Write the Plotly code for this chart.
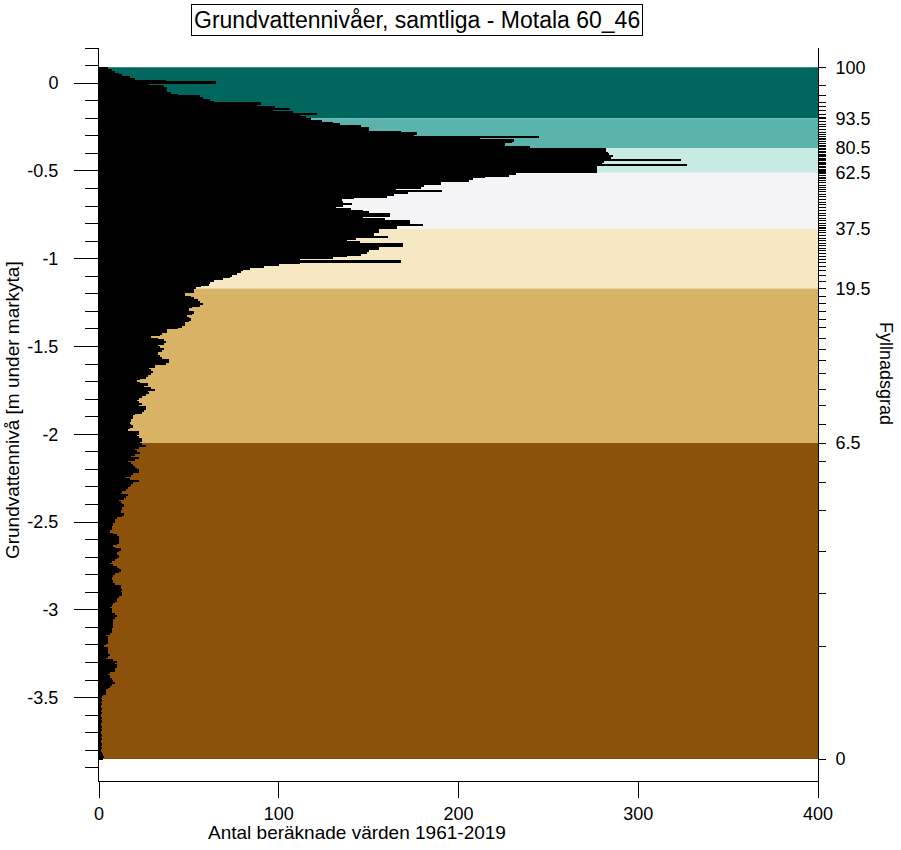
import numpy as np
import plotly.graph_objects as go

# ---------------- data ----------------
level_top = 0.09          # upper edge of first 1 cm bin [m]
bin_width = 0.01          # bin height [m]

# counts per 1 cm bin, top (0.09 m) downwards
counts_top = [5, 7, 9, 11, 13, 17, 20, 37, 65, 28, 36, 38, 37, 38, 40, 44, 56, 58, 62, 64,
              90, 88, 98, 106, 97, 108, 121, 112, 115, 118, 124, 130, 134, 146]
counts_peak = [150, 150, 168, 177, 175, 245, 212, 231, 230, 226, 226, 240, 282, 282, 283, 284,
               286, 285, 324, 281, 280, 327, 277, 277, 277, 277, 232, 228, 215, 208, 206, 190,
               190, 181, 179, 165, 191, 172, 164, 160, 142, 135, 136, 141, 136, 132, 140, 147,
               150, 162, 162, 147, 159, 173, 173, 180, 166, 166, 156, 156, 153, 153, 161, 143,
               138, 145, 169, 169, 156, 156, 150, 149, 146, 138, 130, 112, 168, 112]
counts_shoulder = [100, 92, 84, 80, 79, 77, 74, 73, 69, 64, 62, 61, 57, 54]
counts_mid = [53, 53, 48, 48, 51, 53, 55, 56, 58, 56, 52, 50, 50, 53, 52, 49, 50, 51, 50, 48,
              48, 46, 44, 38, 38, 35, 34, 29, 33, 36, 37, 36, 33, 34, 36, 35, 33, 33, 34, 35,
              39, 39, 37, 31, 31, 28, 29, 30, 29, 27, 26, 23, 21, 23, 27, 25, 29, 31, 27, 28,
              26, 24, 22, 21, 22, 24, 22, 26, 26, 25, 24, 20, 19, 19, 18, 18, 17, 18, 19, 17,
              16, 22, 22, 21, 22, 24, 24, 23, 24, 26, 22, 20, 21, 23, 20, 18]
counts_low = [22, 20, 16, 18, 19, 20, 21, 22, 22, 19, 18, 15, 17, 22, 19, 18, 17, 16, 15, 13,
              12, 16, 15, 14, 11, 12, 13, 14, 13, 13, 12, 12, 14, 13, 10, 9, 9, 8, 8, 7,
              7, 6, 6, 8, 10, 11, 11, 11, 11, 10, 8, 9, 12, 11, 10, 10, 11, 10, 9, 7,
              6, 8, 10, 11, 12, 11, 9, 8, 7, 7, 8, 8, 9, 12, 12, 13, 12, 13, 13, 11,
              10, 10, 9, 8, 7, 6, 7, 7, 7, 9, 10, 9, 8, 8, 8, 8, 8, 7, 7, 7,
              6, 4, 5, 5, 5, 5, 4, 3, 5, 5, 5, 5, 6, 5, 4, 8, 10, 9, 10, 10,
              9, 9, 6, 5, 6, 6, 7, 8, 9, 7, 6, 5, 4, 4, 4, 2]
counts_tail = [1.5, 1, 1.5, 1, 1.5, 1, 1, 1.5, 1, 1.5, 1, 1, 1.5, 1, 1.5, 1, 1, 1.5,
               1, 1.5, 1, 1, 1.5, 1, 1.5, 1, 1, 1.5, 1, 1.5, 1, 1, 1.5, 2, 3, 2]

counts = counts_top + counts_peak + counts_shoulder + counts_mid + counts_low + counts_tail
levels = [round(level_top - bin_width * (i + 0.5), 4) for i in range(len(counts))]

# filling-degree (Fyllnadsgrad) band limits [m] and labels
band_edges = [0.09, -0.20, -0.37, -0.51, -0.83, -1.17, -2.05, -3.85]
fill_labels = ["100", "93.5", "80.5", "62.5", "37.5", "19.5", "6.5", "0"]
band_colors = ["#01665e", "#5ab4ac", "#c7eae5", "#f4f4f6", "#f6e8c3", "#d8b365", "#8c510a"]

x_ticks = [0, 100, 200, 300, 400]
y_ticks = [0, -0.5, -1, -1.5, -2, -2.5, -3, -3.5]
y_tick_text = ["0", "-0.5", "-1", "-1.5", "-2", "-2.5", "-3", "-3.5"]

title_text = "Grundvattennivåer, samtliga - Motala 60_46"
y_title = "Grundvattennivå [m under markyta]"
x_title = "Antal beräknade värden 1961-2019"
y2_title = "Fyllnadsgrad"

# ---------------- derived: integer-percentile ticks on right axis ----------------
c = np.array(counts, dtype=float)[::-1]                      # bottom -> top
edges_up = level_top - bin_width * len(counts) + bin_width * np.arange(len(counts) + 1)
cum = np.concatenate([[0], np.cumsum(c)]) / c.sum()
pct_ticks = [float(np.interp(p / 100.0, cum, edges_up)) for p in range(1, 100)]

FONT = "Liberation Sans, Arial, sans-serif"
yrange = [-3.975, 0.2]

fig = go.Figure()
fig.add_trace(go.Bar(x=counts, y=levels, orientation="h", width=bin_width,
                     marker=dict(color="black", line=dict(width=0)),
                     showlegend=False, hoverinfo="x+y"))
fig.add_trace(go.Scatter(x=[None], y=[None], yaxis="y2", showlegend=False))

for i, col in enumerate(band_colors):
    fig.add_shape(type="rect", xref="x", yref="y", x0=0, x1=400,
                  y0=band_edges[i + 1], y1=band_edges[i],
                  fillcolor=col, line=dict(width=0), layer="below")

fig.update_layout(
    width=901, height=850,
    margin=dict(l=99, r=83, t=48, b=69),
    paper_bgcolor="white", plot_bgcolor="white",
    font=dict(family=FONT, size=18, color="black"),
    bargap=0,
    xaxis=dict(range=[0, 400], tickvals=x_ticks, ticks="outside", ticklen=16,
               tickcolor="black", showline=True, linecolor="black", linewidth=1,
               showgrid=False, zeroline=False, tickfont=dict(size=18)),
    yaxis=dict(range=yrange, tickvals=y_ticks, ticktext=y_tick_text,
               ticks="outside", ticklen=24, tickcolor="black",
               minor=dict(dtick=0.1, tick0=0, ticks="outside", ticklen=13, tickcolor="black"),
               showline=True, linecolor="black", linewidth=1,
               showgrid=False, zeroline=False, ticklabelstandoff=12,
               tickfont=dict(size=18)),
    yaxis2=dict(range=yrange, overlaying="y", side="right", anchor="x",
                tickvals=band_edges, ticktext=fill_labels,
                ticks="outside", ticklen=7, tickcolor="black",
                minor=dict(tickvals=pct_ticks, ticks="outside", ticklen=7, tickcolor="black"),
                showline=True, linecolor="black", linewidth=1,
                showgrid=False, zeroline=False, ticklabelstandoff=6,
                tickfont=dict(size=18)),
)

fig.add_annotation(text=title_text, xref="paper", yref="paper", x=0.4423, y=1.038,
                   showarrow=False, font=dict(size=23), bordercolor="black",
                   borderwidth=1, borderpad=2, bgcolor="white",
                   xanchor="center", yanchor="middle")
fig.add_annotation(text=y_title, xref="paper", yref="paper", x=-0.121, y=0.506,
                   textangle=-90, showarrow=False, font=dict(size=19),
                   xanchor="center", yanchor="middle")
fig.add_annotation(text=y2_title, xref="paper", yref="paper", x=1.0946, y=0.5566,
                   textangle=90, showarrow=False, font=dict(size=18),
                   xanchor="center", yanchor="middle")
fig.add_annotation(text=x_title, xref="paper", yref="paper", x=0.359, y=-0.0709,
                   showarrow=False, font=dict(size=19),
                   xanchor="center", yanchor="middle")

fig.write_html("out.html", config={"displayModeBar": False},
               post_script="document.body.style.margin='0px';")
